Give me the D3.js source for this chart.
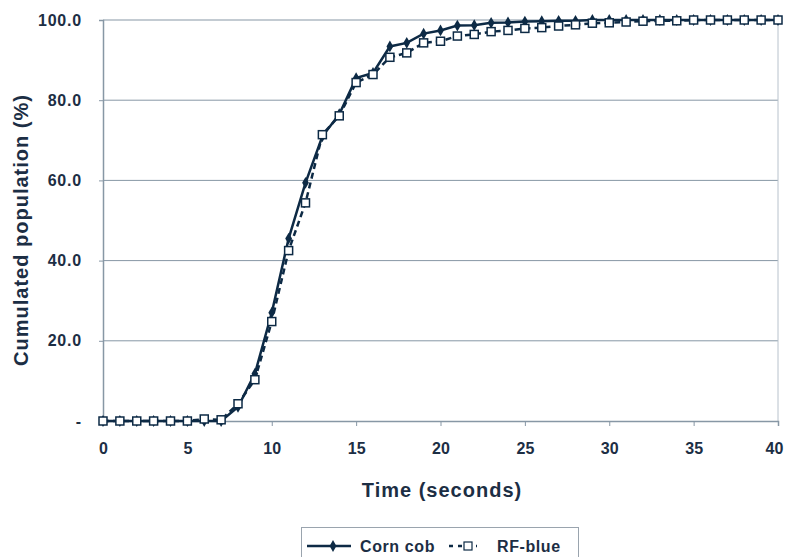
<!DOCTYPE html>
<html>
<head>
<meta charset="utf-8">
<script src="https://cdn.jsdelivr.net/npm/d3@7"></script>
<style>
  body { margin: 0; background: #fff; }
  text { font-family: "Liberation Sans", Arial, sans-serif; font-weight: bold; fill: #1c2e44; }
</style>
</head>
<body>
<div id="chart"></div>
<script>
const times = d3.range(0, 41);
const cornCob = [0, 0, 0, 0, 0, 0, 0, 0, 3.5, 11.8, 27.0, 45.5, 59.4, 71.0, 76.5, 85.5, 86.8, 93.4, 94.3, 96.6, 97.4, 98.6, 98.7, 99.3, 99.4, 99.6, 99.7, 99.8, 99.8, 100, 100, 100, 100, 100, 100, 100, 100, 100, 100, 100, 100];
const rfBlue = [0, 0, 0, 0, 0, 0, 0.5, 0.3, 4.3, 10.3, 24.8, 42.5, 54.4, 71.4, 76.1, 84.4, 86.4, 90.7, 91.8, 94.3, 94.7, 96.0, 96.4, 97.1, 97.4, 97.9, 98.1, 98.5, 98.8, 99.2, 99.3, 99.5, 99.7, 99.8, 99.8, 100, 100, 100, 100, 100, 100];
const yTicks = [0, 20, 40, 60, 80, 100];
const xTicks = [0, 5, 10, 15, 20, 25, 30, 35, 40];
const seriesNames = ["Corn cob", "RF-blue"];

const W = 785, H = 557;
const ink = "#0d2a45", grid = "#8797a5";
const svg = d3.select("#chart").append("svg")
    .attr("width", W)
    .attr("height", H);

const x = d3.scaleLinear().domain([0, 40]).range([103, 778]);
const y = d3.scaleLinear().domain([0, 100]).range([421, 20]);

// gridlines
svg.selectAll('line.grid')
    .data(yTicks.filter(d => d > 0))
    .join('line')
    .attr('class', 'grid')
    .attr('x1', 103).attr('x2', 778)
    .attr('y1', d => y(d)).attr('y2', d => y(d))
    .attr('stroke', grid).attr('stroke-width', 1);

// right edge
svg.append('line')
    .attr('x1', 778).attr('x2', 778).attr('y1', 20).attr('y2', 421)
    .attr('stroke', '#b8c2cc').attr('stroke-width', 1);

// y axis
const yAxis = svg.append('g')
    .attr('transform', 'translate(103,0)')
    .call(d3.axisLeft(y).tickValues(yTicks).tickSize(4).tickPadding(17)
        .tickFormat(d => d === 0 ? "-" : d3.format(".1f")(d)));
yAxis.select('.domain').attr('stroke', grid).attr('stroke-width', 1.5);
yAxis.selectAll('.tick line').attr('stroke', grid);
yAxis.selectAll('.tick text').attr('font-size', 16).style('fill', '#1c2e44')
    .style('letter-spacing', '0.8px');

// x axis
const xAxis = svg.append('g')
    .attr('transform', 'translate(0,421)')
    .call(d3.axisBottom(x).tickValues(xTicks).tickSize(5).tickPadding(17));
xAxis.select('.domain').attr('stroke', grid).attr('stroke-width', 1.5);
xAxis.selectAll('.tick line').attr('stroke', grid);
xAxis.selectAll('.tick text').attr('font-size', 16).style('fill', '#1c2e44')
    .attr('dx', d => d === 40 ? -4 : 0);

// titles
svg.append('text')
    .attr('transform', 'translate(28,230) rotate(-90)')
    .attr('text-anchor', 'middle')
    .attr('font-size', 20)
    .style('letter-spacing', '1px')
    .text('Cumulated population (%)');
svg.append('text')
    .attr('x', 442).attr('y', 497)
    .attr('text-anchor', 'middle')
    .attr('font-size', 20)
    .style('letter-spacing', '1px')
    .text('Time (seconds)');

const line = d3.line().x(d => x(d[0])).y(d => y(d[1]));
const cornPts = times.map((t, i) => [t, cornCob[i]]);
const rfPts = times.map((t, i) => [t, rfBlue[i]]);

const diamond = d3.symbol().type(d3.symbolDiamond).size(40);

// corn cob
svg.append('path')
    .attr('d', line(cornPts))
    .attr('fill', 'none').attr('stroke', ink).attr('stroke-width', 2.5);
svg.selectAll('path.dia')
    .data(cornPts)
    .join('path')
    .attr('class', 'dia')
    .attr('d', diamond)
    .attr('transform', d => `translate(${x(d[0])},${y(d[1])})`)
    .attr('fill', ink);

// RF-blue
svg.append('path')
    .attr('d', line(rfPts))
    .attr('fill', 'none').attr('stroke', ink).attr('stroke-width', 2.5)
    .attr('stroke-dasharray', '6,4');
svg.selectAll('rect.sq')
    .data(rfPts)
    .join('rect')
    .attr('class', 'sq')
    .attr('x', d => x(d[0]) - 4).attr('y', d => y(d[1]) - 4)
    .attr('width', 8).attr('height', 8)
    .attr('fill', '#fff').attr('stroke', ink).attr('stroke-width', 1.5);

// legend
const lg = svg.append('g');
lg.append('rect')
    .attr('x', 301.5).attr('y', 527.5).attr('width', 277).attr('height', 40)
    .attr('fill', '#fff').attr('stroke', '#9aa4ae').attr('stroke-width', 1);
lg.append('line')
    .attr('x1', 307).attr('x2', 351).attr('y1', 546).attr('y2', 546)
    .attr('stroke', ink).attr('stroke-width', 2.5);
lg.append('path').attr('d', diamond)
    .attr('transform', 'translate(333,546)').attr('fill', ink);
lg.append('text').attr('x', 360).attr('y', 552).attr('font-size', 16)
    .style('letter-spacing', '0.6px').text(seriesNames[0]);
lg.append('line')
    .attr('x1', 449).attr('x2', 477).attr('y1', 546).attr('y2', 546)
    .attr('stroke', ink).attr('stroke-width', 2.5).attr('stroke-dasharray', '4,5');
lg.append('rect')
    .attr('x', 464).attr('y', 542).attr('width', 8).attr('height', 8)
    .attr('fill', '#fff').attr('stroke', ink).attr('stroke-width', 1.2);
lg.append('text').attr('x', 497).attr('y', 552).attr('font-size', 16)
    .style('letter-spacing', '0.6px').text(seriesNames[1]);
</script>
</body>
</html>
